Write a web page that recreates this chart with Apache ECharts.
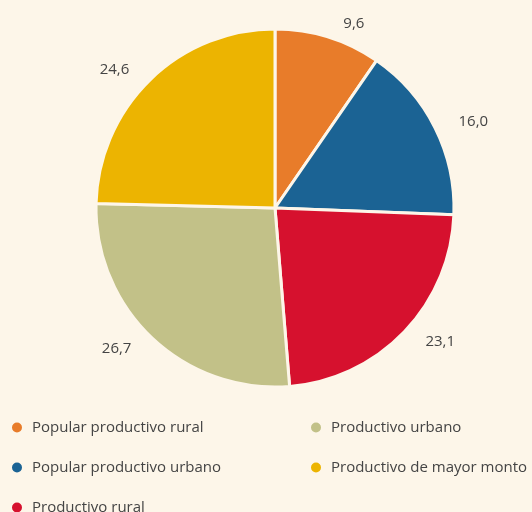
<!DOCTYPE html>
<html>
<head>
<meta charset="utf-8">
<script src="https://cdn.jsdelivr.net/npm/echarts@6/dist/echarts.min.js"></script>
<style>
  html, body { margin: 0; padding: 0; background: #fdf6e9; }
  #chart { width: 532px; height: 512px; }
</style>
</head>
<body>
<div id="chart"></div>
<script>
// Shares by segment (percent)
const categories = [
  'Popular productivo rural',
  'Popular productivo urbano',
  'Productivo rural',
  'Productivo urbano',
  'Productivo de mayor monto'
];
const values = [9.6, 16.0, 23.1, 26.7, 24.6];
const colors = ['#e87c2a', '#1b6394', '#d6112e', '#c2c188', '#ecb401'];

const bg = '#fdf6e9';
const textColor = '#444444';
const font = '"Open Sans", "Noto Sans", sans-serif';

const data = categories.map((name, i) => ({
  name: name,
  value: values[i],
  itemStyle: { color: colors[i] }
}));

const legendBase = {
  orient: 'vertical',
  icon: 'circle',
  padding: 0,
  height: 140,
  itemWidth: 12,
  itemHeight: 12,
  itemGap: 25,
  selectedMode: false,
  textStyle: {
    fontFamily: font,
    fontSize: 15,
    color: textColor,
    lineHeight: 15,
    padding: [0, 0, 0, 4]
  }
};

const chart = echarts.init(document.getElementById('chart'), null, { renderer: 'canvas' });
chart.setOption({
  backgroundColor: bg,
  animation: false,
  color: colors,
  legend: [
    Object.assign({}, legendBase, { left: 10, top: 420, data: categories.slice(0, 3) }),
    Object.assign({}, legendBase, { left: 309, top: 420, data: categories.slice(3) })
  ],
  series: [{
    type: 'pie',
    center: [275, 208],
    radius: [0, 179],
    startAngle: 90,
    clockwise: true,
    data: data,
    itemStyle: { borderColor: bg, borderWidth: 3 },
    label: {
      show: true,
      position: 'outside',
      formatter: p => p.value.toFixed(1).replace('.', ','),
      fontFamily: font,
      fontSize: 15,
      color: textColor
    },
    labelLine: { show: false, length: 14, length2: 6 },
    emphasis: { disabled: true }
  }]
});
</script>
</body>
</html>
